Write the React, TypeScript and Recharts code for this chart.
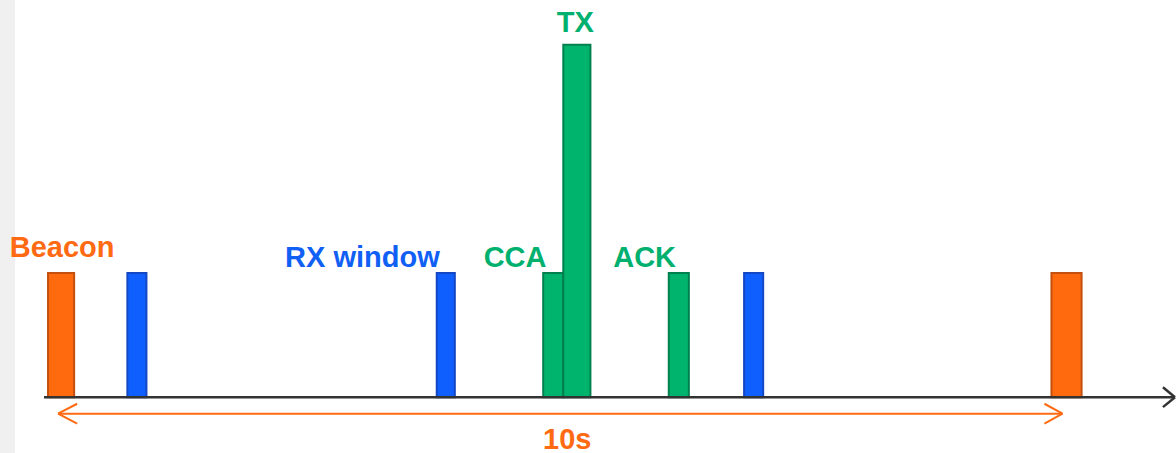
import React from 'react';
import { ComposedChart, XAxis, YAxis, ReferenceArea, ReferenceLine, ReferenceDot } from 'recharts';

// time in seconds, height in relative power units
const pulseKinds = ['beacon', 'rx', 'rx', 'cca', 'tx', 'ack', 'rx', 'beacon'];
const pulseStart = [-0.1, 0.69, 3.77, 4.83, 5.03, 6.08, 6.83, 9.89];
const pulseEnd = [0.16, 0.88, 3.95, 5.03, 5.3, 6.28, 7.02, 10.19];
const pulseHeight = [1, 1, 1, 1, 2.84, 1, 1, 1];

const labelText = ['Beacon', 'RX window', 'CCA', 'TX', 'ACK', '10s'];
const labelKind = ['beacon', 'rx', 'cca', 'tx', 'ack', 'beacon'];
const labelT = [0.04, 3.03, 4.55, 5.15, 5.84, 5.07];
const labelY = [1.13, 1.05, 1.05, 2.94, 1.05, -0.415];

const periodStart = 0;
const periodEnd = 10;

const fills: Record<string, string> = { beacon: '#ff6a0e', rx: '#0f5fff', cca: '#00b46e', tx: '#00b46e', ack: '#00b46e' };
const strokes: Record<string, string> = { beacon: '#c4500f', rx: '#1447c4', cca: '#00804f', tx: '#00804f', ack: '#00804f' };
const textColors: Record<string, string> = { beacon: '#ff6a12', rx: '#1060f5', cca: '#00b06e', tx: '#00b06e', ack: '#00b06e' };

const pulses = pulseKinds.map((kind, i) => ({
  kind,
  start: pulseStart[i],
  end: pulseEnd[i],
  height: pulseHeight[i],
}));

const labels = labelText.map((text, i) => ({ text, kind: labelKind[i], t: labelT[i], y: labelY[i] }));

const font = '"Liberation Sans", Arial, sans-serif';

const TextShape = (props: any) => (
  <text
    x={props.cx}
    y={props.cy}
    textAnchor="middle"
    fill={props.color}
    fontFamily={font}
    fontWeight="bold"
    fontSize={29}
  >
    {props.text}
  </text>
);

export default function App() {
  const arrowY = -0.133;
  return (
    <div style={{ position: 'fixed', left: 0, top: 0, width: 1176, height: 453, background: '#fff' }}>
      <div style={{ position: 'absolute', left: 0, top: 0, width: 15, height: 453, background: '#f0f0f0' }} />
      <div style={{ position: 'absolute', left: 0, top: 0 }}>
        <ComposedChart width={1176} height={453} data={pulses} margin={{ top: 25, right: 1, bottom: 0, left: 44 }}>
          <XAxis type="number" dataKey="start" domain={[-0.14, 11.12]} hide allowDataOverflow />
          <YAxis type="number" domain={[-0.45, 3]} hide allowDataOverflow />
          {pulses.map((p, i) => (
            <ReferenceArea
              key={`p-${i}`}
              x1={p.start}
              x2={p.end}
              y1={0}
              y2={p.height}
              fill={fills[p.kind]}
              fillOpacity={1}
              stroke={strokes[p.kind]}
              strokeWidth={2}
            />
          ))}
          {/* time axis with arrow */}
          <ReferenceLine y={0} stroke="#333" strokeWidth={2.5} />
          <ReferenceLine segment={[{ x: 11.0, y: 0.08 }, { x: 11.12, y: 0 }]} stroke="#333" strokeWidth={2.5} />
          <ReferenceLine segment={[{ x: 11.0, y: -0.08 }, { x: 11.12, y: 0 }]} stroke="#333" strokeWidth={2.5} />
          {/* beacon period arrow */}
          <ReferenceLine segment={[{ x: periodStart, y: arrowY }, { x: periodEnd, y: arrowY }]} stroke="#ff6a12" strokeWidth={2} />
          <ReferenceLine segment={[{ x: periodStart, y: arrowY }, { x: periodStart + 0.19, y: arrowY + 0.08 }]} stroke="#ff6a12" strokeWidth={2} />
          <ReferenceLine segment={[{ x: periodStart, y: arrowY }, { x: periodStart + 0.19, y: arrowY - 0.08 }]} stroke="#ff6a12" strokeWidth={2} />
          <ReferenceLine segment={[{ x: periodEnd, y: arrowY }, { x: periodEnd - 0.18, y: arrowY + 0.08 }]} stroke="#ff6a12" strokeWidth={2} />
          <ReferenceLine segment={[{ x: periodEnd, y: arrowY }, { x: periodEnd - 0.18, y: arrowY - 0.08 }]} stroke="#ff6a12" strokeWidth={2} />
          {labels.map((l, i) => (
            <ReferenceDot
              key={`l-${i}`}
              x={l.t}
              y={l.y}
              r={0}
              shape={(props: any) => <TextShape {...props} text={l.text} color={textColors[l.kind]} />}
            />
          ))}
        </ComposedChart>
      </div>
    </div>
  );
}
